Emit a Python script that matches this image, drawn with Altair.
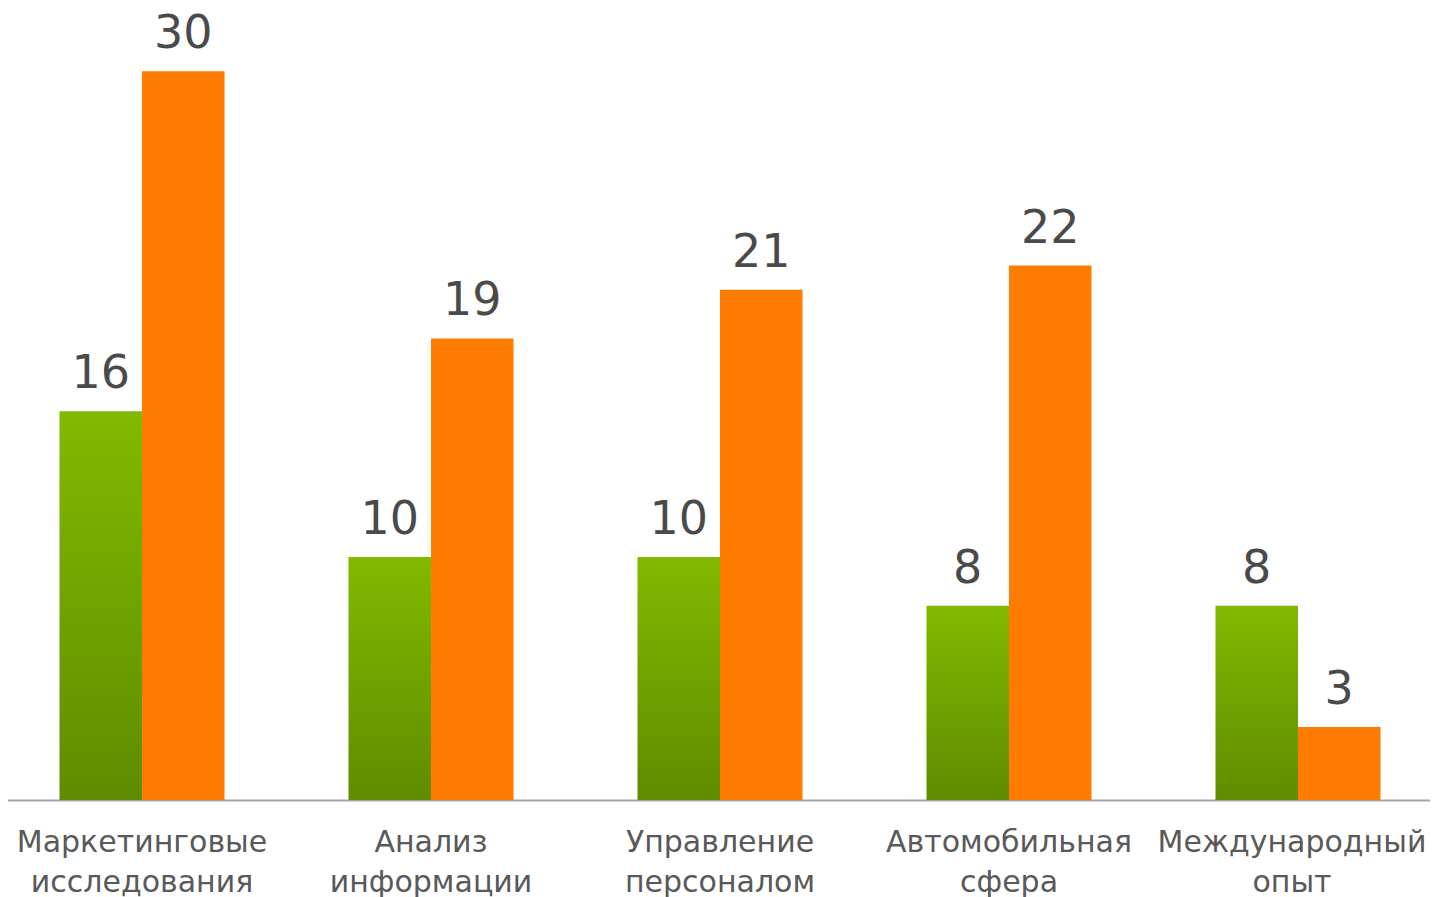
import altair as alt
import pandas as pd

categories = ["Маркетинговые исследования", "Анализ информации", "Управление персоналом",
              "Автомобильная сфера", "Международный опыт"]
series_names = ["A", "B"]
values_a = [16, 10, 10, 8, 8]
values_b = [30, 19, 21, 22, 3]

rows = []
for c, a, b in zip(categories, values_a, values_b):
    rows.append({"cat": c, "series": "A", "value": a})
    rows.append({"cat": c, "series": "B", "value": b})
df = pd.DataFrame(rows)

x_enc = alt.X("cat:N", sort=categories,
              scale=alt.Scale(range=[-10.5, 1434.5], paddingInner=0.429, paddingOuter=0.2145),
              axis=alt.Axis(title=None, labelAngle=0, ticks=False, domainColor="#A6A6A6",
                            domainWidth=2, labelFontSize=30, labelColor="#595959",
                            labelFont="DejaVu Sans", labelPadding=27, labelLineHeight=40,
                            labelExpr="split(datum.label, ' ')", labelBaseline="top",
                            labelOffset={"condition": {"test": "datum.value == 'Международный опыт'",
                                                       "value": -6},
                                         "value": 0},
                            labelLimit=400))
xo_enc = alt.XOffset("series:N", scale=alt.Scale(domain=series_names, paddingInner=0, paddingOuter=0))
y_enc = alt.Y("value:Q", scale=alt.Scale(domain=[0, 32.6], nice=False, zero=True),
              axis=None)

base = alt.Chart(df).encode(x=x_enc, xOffset=xo_enc, y=y_enc)

green = alt.Gradient(
    gradient="linear",
    stops=[alt.GradientStop(color="#80BA00", offset=0),
           alt.GradientStop(color="#5E8C00", offset=1)],
    x1=0, x2=0, y1=0, y2=1,
)

bars_a = base.transform_filter(alt.datum.series == "A").mark_bar(color=green)
bars_b = base.transform_filter(alt.datum.series == "B").mark_bar(color="#FF7C00")
labels = base.mark_text(dy=-23, baseline="alphabetic", fontSize=46, font="DejaVu Sans",
                        color="#4A4A4A").encode(text="value:Q")

chart = alt.layer(bars_a, bars_b, labels).properties(
    width=1422, height=792,
    autosize=alt.AutoSizeParams(type="none"),
    padding={"left": 0, "right": 0, "top": 0, "bottom": 97},
).configure_view(stroke=None)

chart.save("out.html", embed_options={"renderer": "svg", "actions": False})
